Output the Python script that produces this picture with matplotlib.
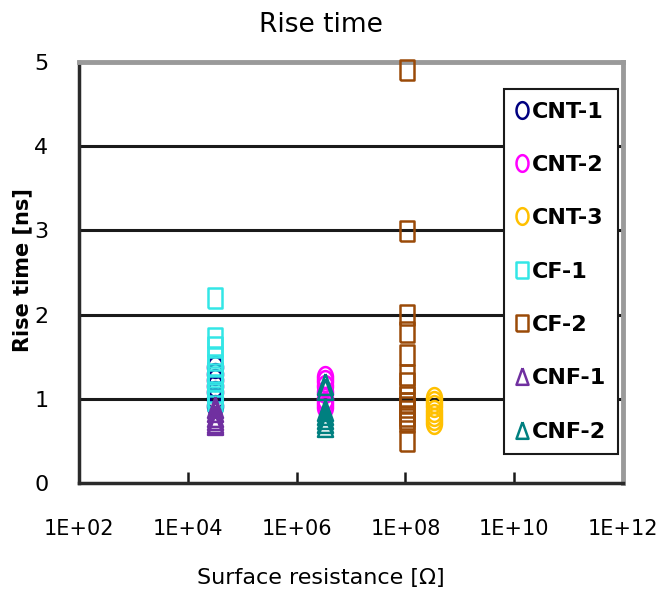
import numpy as np
import matplotlib
matplotlib.use("Agg")
import matplotlib.pyplot as plt
from matplotlib.path import Path

plt.rcParams['font.family'] = ['DejaVu Sans']

# data (x = surface resistance, y = rise time in ns)
labels = ["CNT-1", "CNT-2", "CNT-3", "CF-1", "CF-2", "CNF-1", "CNF-2"]
colors = ["#000080", "#FF00FF", "#FFC000", "#33E6E6", "#9A4A08", "#7030A0", "#008080"]
shapes = ["o", "o", "o", "s", "s", "^", "^"]

cnt1_x = 3.2e4
cnt1_y = [1.38, 1.30, 1.22, 1.15, 1.08, 1.00, 0.92]
cnt2_x = 3.3e6
cnt2_y = [1.26, 1.21, 1.15, 1.08, 1.00, 0.95, 0.90]
cnt3_x = 3.3e8
cnt3_y = [1.01, 0.96, 0.91, 0.86, 0.81, 0.76, 0.71]
cf1_x = 3.2e4
cf1_y = [2.20, 1.72, 1.62, 1.50, 1.40, 1.30, 1.22, 1.15, 1.08, 1.02, 0.97]
cf2_x = 1.05e8
cf2_y = [4.90, 2.99, 2.00, 1.79, 1.52, 1.28, 1.19, 1.02, 0.95, 0.90,
         0.85, 0.80, 0.76, 0.72, 0.50]
cnf1_x = 3.2e4
cnf1_y = [0.90, 0.85, 0.80, 0.76, 0.72, 0.70]
cnf2_x = 3.3e6
cnf2_y = [1.18, 1.12, 0.87, 0.82, 0.77, 0.72, 0.68]

xs = [cnt1_x, cnt2_x, cnt3_x, cf1_x, cf2_x, cnf1_x, cnf2_x]
ys = [cnt1_y, cnt2_y, cnt3_y, cf1_y, cf2_y, cnf1_y, cnf2_y]

xtick_vals = [1e2, 1e4, 1e6, 1e8, 1e10, 1e12]
xtick_labels = ["1E+02", "1E+04", "1E+06", "1E+08", "1E+10", "1E+12"]
ytick_vals = [0, 1, 2, 3, 4, 5]

# markers are taller than wide in the reference
t = np.linspace(0, 2 * np.pi, 61)
ell = Path(np.column_stack([0.72 * np.cos(t), np.sin(t)]))
rect = Path([(-0.72, -1), (0.72, -1), (0.72, 1), (-0.72, 1), (-0.72, -1)])
tri = Path([(0, 1), (0.72, -1), (-0.72, -1), (0, 1)])
paths = {"o": ell, "s": rect, "^": tri}

fig = plt.figure(figsize=(6.62, 5.99), dpi=100)
ax = fig.add_axes([79 / 662, 1 - 483 / 599, 544 / 662, 421 / 599])

ax.set_xscale("log")
ax.set_xlim(1e2, 1e12)
ax.set_ylim(0, 5)

for yv in ytick_vals[1:-1]:
    ax.axhline(yv, color="#1a1a1a", lw=2.2, zorder=1)

handles = []
for lab, c, m, x, y in zip(labels, colors, shapes, xs, ys):
    h, = ax.plot([x] * len(y), y, linestyle="none", marker=paths[m],
                 markersize=15, markerfacecolor="none", markeredgecolor=c,
                 markeredgewidth=1.8, label=lab, zorder=3, clip_on=False)
    handles.append(h)

ax.set_xticks(xtick_vals)
ax.set_xticklabels(xtick_labels)
ax.xaxis.set_minor_locator(matplotlib.ticker.NullLocator())
ax.set_yticks(ytick_vals)
ax.tick_params(axis="x", direction="in", length=8, width=1.8, color="#1a1a1a",
               pad=26, labelsize=15)
ax.tick_params(axis="y", length=0, pad=22, labelsize=16)

for s in ["left", "bottom"]:
    ax.spines[s].set_color("#2a2a2a")
    ax.spines[s].set_linewidth(2.5)
for s in ["top", "right"]:
    ax.spines[s].set_color("#9a9a9a")
    ax.spines[s].set_linewidth(3.5)

leg = ax.legend(handles=handles, loc="upper left", bbox_to_anchor=(0.781, 0.935),
                borderaxespad=0, numpoints=1, handlelength=0.5,
                handletextpad=0.2, labelspacing=1.5, borderpad=0.55,
                fontsize=16, fancybox=False, framealpha=1,
                edgecolor="#1a1a1a", markerscale=0.8)
leg.get_frame().set_linewidth(1.5)
for txt in leg.get_texts():
    txt.set_fontweight("bold")

fig.text(321 / 662, 1 - 25 / 599, "Rise time", ha="center", va="center",
         fontsize=19, fontweight="medium")
fig.text(321 / 662, 1 - 578 / 599, "Surface resistance [Ω]", ha="center",
         va="center", fontsize=16)
fig.text(22 / 662, 1 - 270 / 599, "Rise time [ns]", ha="center", va="center",
         rotation=90, fontsize=15, fontweight="bold")

fig.savefig("out.png", dpi=100)
